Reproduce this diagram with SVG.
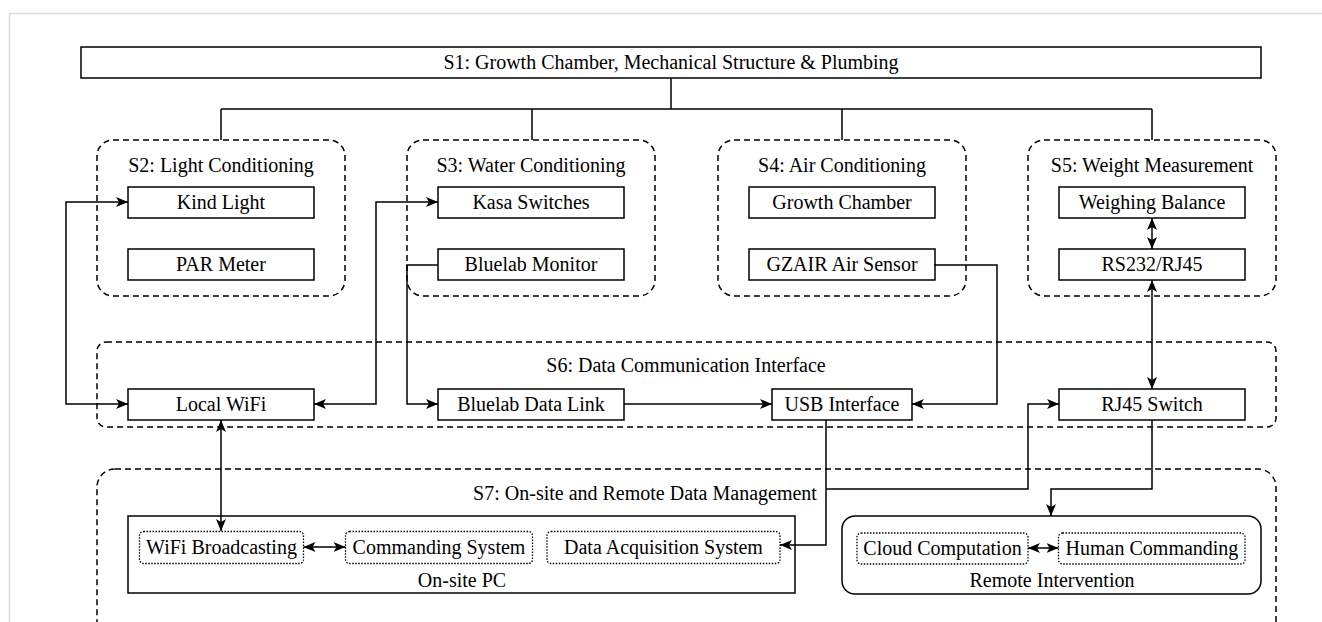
<svg xmlns="http://www.w3.org/2000/svg" width="1322" height="622" viewBox="0 0 1322 622">
<defs>
<style>
text{font-family:"Liberation Serif","Times New Roman",serif;font-size:20px;fill:#000;text-anchor:middle}
.box{fill:#fff;stroke:#000;stroke-width:1.5}
.cont{fill:none;stroke:#000;stroke-width:1.5}
.grp{fill:none;stroke:#000;stroke-width:1.5;stroke-dasharray:6 4}
.dot{fill:none;stroke:#000;stroke-width:1.3;stroke-dasharray:1.5 1.5}
.ln{fill:none;stroke:#000;stroke-width:1.5}
</style>
<marker id="arr" viewBox="0 0 12 10" refX="12" refY="5" markerWidth="12" markerHeight="10" markerUnits="userSpaceOnUse" orient="auto-start-reverse">
<path d="M0,0 L12,5 L0,10 L3,5 z" fill="#000"/>
</marker>
</defs>
<rect x="9.5" y="13.5" width="1330" height="620" fill="#fff" stroke="#dcdcdc" stroke-width="1.5"/>

<g id="s1">
<rect class="box" x="81" y="47" width="1180" height="31"/>
<text x="671" y="69">S1: Growth Chamber, Mechanical Structure &amp; Plumbing</text>
</g>

<g id="s2">
<rect class="grp" x="97" y="140" width="248" height="156" rx="16"/>
<text x="221" y="172">S2: Light Conditioning</text>
</g>
<g id="kind-light"><rect class="box" x="128" y="187" width="186" height="31"/><text x="221" y="209">Kind Light</text></g>
<g id="par-meter"><rect class="box" x="128" y="249" width="186" height="31"/><text x="221" y="271">PAR Meter</text></g>

<g id="s3">
<rect class="grp" x="407" y="140" width="248" height="156" rx="16"/>
<text x="531" y="172">S3: Water Conditioning</text>
</g>
<g id="kasa"><rect class="box" x="438" y="187" width="186" height="31"/><text x="531" y="209">Kasa Switches</text></g>
<g id="bluelab-monitor"><rect class="box" x="438" y="249" width="186" height="31"/><text x="531" y="271">Bluelab Monitor</text></g>

<g id="s4">
<rect class="grp" x="718" y="140" width="248" height="156" rx="16"/>
<text x="842" y="172">S4: Air Conditioning</text>
</g>
<g id="growth-chamber"><rect class="box" x="749" y="187" width="186" height="31"/><text x="842" y="209">Growth Chamber</text></g>
<g id="gzair"><rect class="box" x="749" y="249" width="186" height="31"/><text x="842" y="271">GZAIR Air Sensor</text></g>

<g id="s5">
<rect class="grp" x="1028" y="140" width="248" height="156" rx="16"/>
<text x="1152" y="172">S5: Weight Measurement</text>
</g>
<g id="weighing"><rect class="box" x="1059" y="187" width="186" height="31"/><text x="1152" y="209">Weighing Balance</text></g>
<g id="rs232"><rect class="box" x="1059" y="249" width="186" height="31"/><text x="1152" y="271">RS232/RJ45</text></g>

<g id="s6">
<rect class="grp" x="97" y="342" width="1179" height="85" rx="9"/>
<text x="686" y="372">S6: Data Communication Interface</text>
</g>
<g id="local-wifi"><rect class="box" x="128" y="389" width="186" height="31"/><text x="221" y="411">Local WiFi</text></g>
<g id="bluelab-link"><rect class="box" x="438" y="389" width="186" height="31"/><text x="531" y="411">Bluelab Data Link</text></g>
<g id="usb"><rect class="box" x="772" y="389" width="140" height="31"/><text x="842" y="411">USB Interface</text></g>
<g id="rj45"><rect class="box" x="1059" y="389" width="186" height="31"/><text x="1152" y="411">RJ45 Switch</text></g>

<g id="s7">
<rect class="grp" x="97" y="469" width="1179" height="180" rx="18"/>
<text x="645" y="500">S7: On-site and Remote Data Management</text>
</g>
<g id="onsite-pc">
<rect class="cont" x="128" y="516" width="667" height="77"/>
<text x="462" y="587">On-site PC</text>
</g>
<g id="wifi-broadcasting"><rect class="dot" x="139.5" y="531.5" width="164" height="32" rx="4"/><text x="221.5" y="554">WiFi Broadcasting</text></g>
<g id="commanding"><rect class="dot" x="345.5" y="531.5" width="187" height="32" rx="4"/><text x="439" y="554">Commanding System</text></g>
<g id="daq"><rect class="dot" x="547" y="531.5" width="233" height="32" rx="4"/><text x="663.5" y="554">Data Acquisition System</text></g>

<g id="remote">
<rect class="cont" x="842" y="516" width="419" height="78" rx="13"/>
<text x="1052" y="587">Remote Intervention</text>
</g>
<g id="cloud"><rect class="dot" x="857" y="533" width="171" height="31" rx="4"/><text x="942.5" y="555">Cloud Computation</text></g>
<g id="human"><rect class="dot" x="1058.5" y="533" width="186.5" height="31" rx="4"/><text x="1152" y="555">Human Commanding</text></g>

<g id="connectors">
<path class="ln" d="M671,78 V109 M221,109 H1152 M221,109 V140 M532,109 V140 M842,109 V140 M1152,109 V140"/>
<path class="ln" d="M128,202 H66 V404 H128" marker-start="url(#arr)" marker-end="url(#arr)"/>
<path class="ln" d="M314,404 H376 V202 H438" marker-start="url(#arr)" marker-end="url(#arr)"/>
<path class="ln" d="M438,265 H407 V404 H438" marker-end="url(#arr)"/>
<path class="ln" d="M624,404 H772" marker-end="url(#arr)"/>
<path class="ln" d="M934,265 H997 V404 H912" marker-end="url(#arr)"/>
<path class="ln" d="M1152,218 V249" marker-start="url(#arr)" marker-end="url(#arr)"/>
<path class="ln" d="M1152,280 V389" marker-start="url(#arr)" marker-end="url(#arr)"/>
<path class="ln" d="M221,420 V531" marker-start="url(#arr)" marker-end="url(#arr)"/>
<path class="ln" d="M303.5,547 H345.5" marker-start="url(#arr)" marker-end="url(#arr)"/>
<path class="ln" d="M826,420 V545 H780" marker-end="url(#arr)"/>
<path class="ln" d="M826,489 H1028 V404 H1059" marker-end="url(#arr)"/>
<path class="ln" d="M1152,420 V489 H1051 V516" marker-end="url(#arr)"/>
<path class="ln" d="M1028,548 H1058.5" marker-start="url(#arr)" marker-end="url(#arr)"/>
</g>
</svg>
